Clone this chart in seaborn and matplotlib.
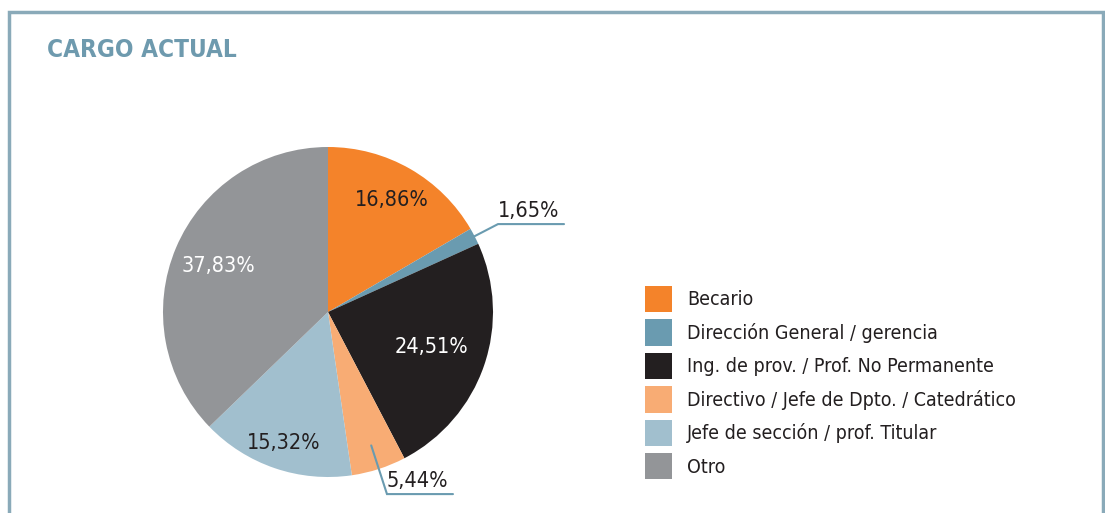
import numpy as np
import matplotlib
matplotlib.use("Agg")
import matplotlib.pyplot as plt
import matplotlib.patches as mpatches
import seaborn as sns

categories = ["Becario",
              "Dirección General / gerencia",
              "Ing. de prov. / Prof. No Permanente",
              "Directivo / Jefe de Dpto. / Catedrático",
              "Jefe de sección / prof. Titular",
              "Otro"]
values = [16.86, 1.65, 24.51, 5.44, 15.32, 37.83]
pct_labels = ["16,86%", "1,65%", "24,51%", "5,44%", "15,32%", "37,83%"]
colors = ["#F4832A", "#6A9BB0", "#231F20", "#F8AC74", "#A1BFCE", "#939598"]
text_colors = ["#231F20", "#231F20", "white", "#231F20", "#231F20", "white"]
label_radius = [0.78, None, 0.66, None, 0.84, 0.72]   # None -> outside w/ leader line
title = "CARGO ACTUAL"

sns.set_style("white")
plt.rcParams['font.family'] = ['DejaVu Sans']
plt.rcParams['font.stretch'] = 'condensed'

W, H = 1105, 513
fig = plt.figure(figsize=(W / 100, H / 100), dpi=100)

# frame box around the panel
border = mpatches.Rectangle((9 / W, -0.05), (1103 - 9) / W, (H - 12) / H + 0.05,
                            transform=fig.transFigure, fill=False,
                            edgecolor="#8AAAB9", linewidth=2.5, clip_on=False)
fig.add_artist(border)

fig.text(47 / W, 1 - 50 / H, title, color="#6E9AAE", fontsize=17.5,
         fontweight="bold", va="center", ha="left")

# pie axes: centre at (328, 312) px, radius 165 px
R = 165
cx, cy = 328, H - 312
xl, xr, yb, yt = -1.2, 1.6, -1.2, 1.2
ax = fig.add_axes([(cx + xl * R) / W, (cy + yb * R) / H,
                   (xr - xl) * R / W, (yt - yb) * R / H])
wedges, _ = ax.pie(values, colors=colors, startangle=90, counterclock=False,
                   radius=1, wedgeprops=dict(linewidth=0))
ax.set_xlim(xl, xr)
ax.set_ylim(yb, yt)
ax.axis("off")

line_col = "#6A9BB0"
for w, lab, tc, r in zip(wedges, pct_labels, text_colors, label_radius):
    mid = np.deg2rad((w.theta1 + w.theta2) / 2)
    if r is not None:
        ax.text(r * np.cos(mid), r * np.sin(mid), lab, color=tc, fontsize=15.5,
                ha="center", va="center")
    else:
        p0 = np.array([0.85 * np.cos(mid), 0.85 * np.sin(mid)])
        p1 = np.array([1.16 * np.cos(mid), 1.16 * np.sin(mid)])
        p2 = p1 + np.array([0.4, 0])
        ax.plot([p0[0], p1[0], p2[0]], [p0[1], p1[1], p2[1]],
                color=line_col, linewidth=1.5, solid_joinstyle="miter")
        ax.text(p2[0] - 0.03, p2[1] + 0.02, lab, color=tc, fontsize=15.5,
                ha="right", va="bottom")

leg = fig.legend(wedges, categories, loc="upper left",
                 bbox_to_anchor=(645 / W, 1 - 286 / H), frameon=False,
                 fontsize=14, handlelength=1.4, handleheight=1.7,
                 labelspacing=0.37, handletextpad=0.75, borderpad=0,
                 borderaxespad=0)
for t in leg.get_texts():
    t.set_color("#231F20")

fig.savefig("out.png", dpi=100)
